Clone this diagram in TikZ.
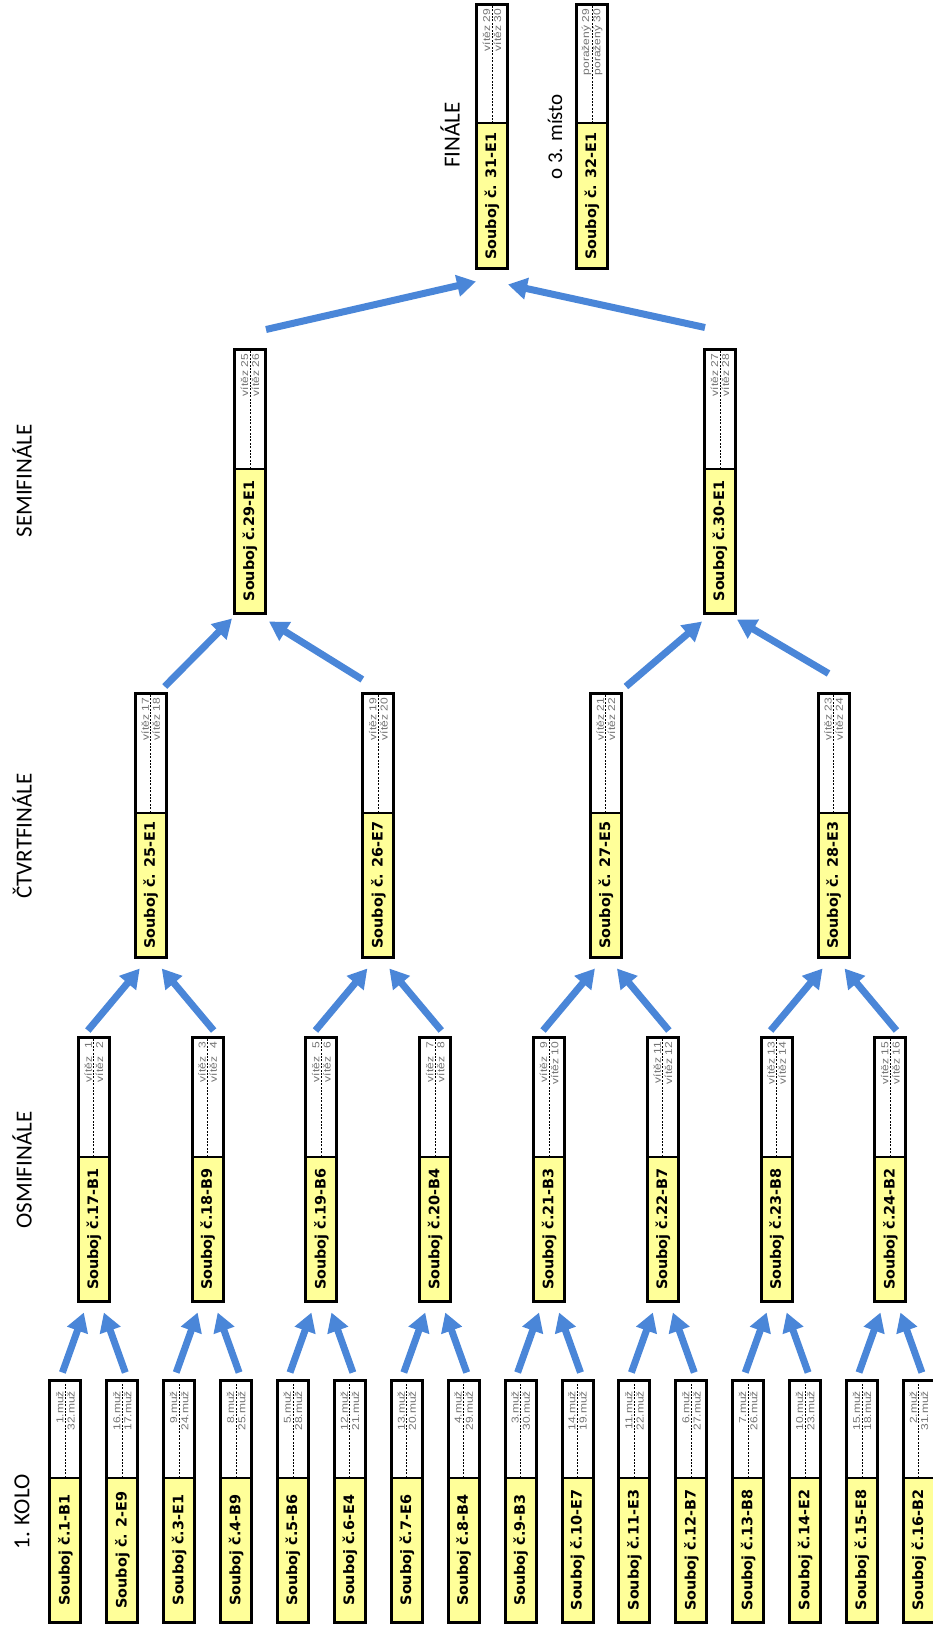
\documentclass[tikz,border=0pt]{standalone}
\usepackage{fontspec}
\setmainfont{Carlito}
\newfontfamily\boxfont{DejaVu Sans}
\newfontfamily\smallfont{Liberation Sans}[FakeStretch=1.2]
\usetikzlibrary{arrows.meta,calc}

\definecolor{arrowblue}{RGB}{74,134,216}
\definecolor{boxyellow}{RGB}{255,255,153}
\newcommand{\vz}[1]{\ifnum#1<10 vítěz\hspace{4pt}#1\hspace{5pt}\else vítěz #1\fi}

\begin{document}
\begin{tikzpicture}[x=0.5pt,y=-0.5pt,
        title/.style={rotate=90,draw,fill=boxyellow,line width=0.5pt,minimum width=72pt,minimum height=15pt,inner sep=0pt,
            font=\boxfont\bfseries\fontsize{7.2}{8}\selectfont},
        names/.style 2 args={rotate=90,draw,fill=white,line width=0.5pt,anchor=west,minimum width=#1,minimum height=15pt,inner sep=0pt,
            align=right,text width=#2,text=black!55,font=\smallfont\fontsize{5}{5.6}\selectfont},
        frame/.style={line width=1.5pt},
        divider/.style={line width=0.5pt,dash pattern=on 1pt off 0.7pt},
        win/.style={arrowblue,line width=3.5pt,-{Triangle[length=9.5pt,width=10.5pt]}},
        round/.style={rotate=90,font=\fontsize{11.5}{12}\selectfont}]
    \useasboundingbox (0,0) rectangle (932,1632);

    % round labels
    \node[round] (kolo) at (22,1512) {1. KOLO};
    \node[round] (osmi) at (22,1170) {OSMIFINÁLE};
    \node[round] (ctvrt) at (22,836) {ČTVRTFINÁLE};
    \node[round] (semi) at (22,481) {SEMIFINÁLE};
    \node[round] (fin) at (450,135) {FINÁLE};
    \node[round,font=\fontsize{10.5}{12}\selectfont] (treti) at (555,137) {o 3. místo};

    % 1. kolo
    \foreach \i/\t/\a/\b in {1/{č.1-B1}/1/32, 2/{č. 2-E9}/16/17, 3/{č.3-E1}/9/24, 4/{č.4-B9}/8/25,
            5/{č.5-B6}/5/28, 6/{č.6-E4}/12/21, 7/{č.7-E6}/13/20, 8/{č.8-B4}/4/29,
            9/{č.9-B3}/3/30, 10/{č.10-E7}/14/19, 11/{č.11-E3}/11/22, 12/{č.12-B7}/6/27,
            13/{č.13-B8}/7/26, 14/{č.14-E2}/10/23, 15/{č.15-E8}/15/18, 16/{č.16-B2}/2/31} {
        \node[title] (s\i) at ({65.4+56.9*(\i-1)},1550) {Souboj \t};
        \node[names={48pt}{38pt}] (v\i) at (s\i.east) {\a.muž\\\b.muž};
    }

    % osmifinale
    \foreach \i/\t in {17/B1, 18/B9, 19/B6, 20/B4, 21/B3, 22/B7, 23/B8, 24/B2} {
        \pgfmathtruncatemacro\a{2*\i-33}
        \pgfmathtruncatemacro\b{2*\i-32}
        \node[title] (s\i) at ({93.85+113.8*(\i-17)},1229) {Souboj č.\i-\t};
        \node[names={59pt}{55pt}] (v\i) at (s\i.east) {\vz{\a}\\\vz{\b}};
    }

    % ctvrtfinale, semifinale, finale
    \foreach \i/\x/\y/\t/\a/\b in {25/150.75/885/{č. 25-E1}/17/18, 26/378.35/885/{č. 26-E7}/19/20,
            27/605.95/885/{č. 27-E5}/21/22, 28/833.55/885/{č. 28-E3}/23/24,
            29/250/541/{č.29-E1}/25/26, 30/720/541/{č.30-E1}/27/28, 31/492/196/{č. 31-E1}/29/30} {
        \node[title] (s\i) at (\x,\y) {Souboj \t};
        \node[names={59pt}{55pt}] (v\i) at (s\i.east) {vítěz \a\\vítěz \b};
    }
    \node[title] (s32) at (592,196) {Souboj č. 32-E1};
    \node[names={59pt}{55pt}] (v32) at (s32.east) {poražený 29\\poražený 30};

    \foreach \i in {1,...,32} {
        \draw[divider] (v\i.west) -- (v\i.east);
        \draw[frame] (s\i.south west) rectangle (v\i.north east);
    }

    % arrows
    \foreach \p in {17,...,24} {
        \pgfmathtruncatemacro\a{2*\p-33}
        \pgfmathtruncatemacro\b{2*\p-32}
        \draw[win] ($(v\a.east)+(-3,-8)$) -- ($(s\p.west)+(-10,11)$);
        \draw[win] ($(v\b.east)+(3,-8)$) -- ($(s\p.west)+(10,11)$);
    }
    \foreach \p in {25,...,28} {
        \pgfmathtruncatemacro\a{2*\p-33}
        \pgfmathtruncatemacro\b{2*\p-32}
        \draw[win] ($(v\a.east)+(-6,-7)$) -- ($(s\p.west)+(-11,11)$);
        \draw[win] ($(v\b.east)+(6,-7)$) -- ($(s\p.west)+(11,11)$);
    }
    \foreach \c/\p/\tx/\ty/\hx/\hy in {25/29/14/-7/-18/5, 26/29/-16/-14/19/8, 27/30/20/-7/-18/8, 28/30/-5/-20/17/6,
            29/31/16/-20/-16/13, 30/31/-15/-22/16/16}
        \draw[win] ($(v\c.east)+(\tx,\ty)$) -- ($(s\p.west)+(\hx,\hy)$);
\end{tikzpicture}
\end{document}
